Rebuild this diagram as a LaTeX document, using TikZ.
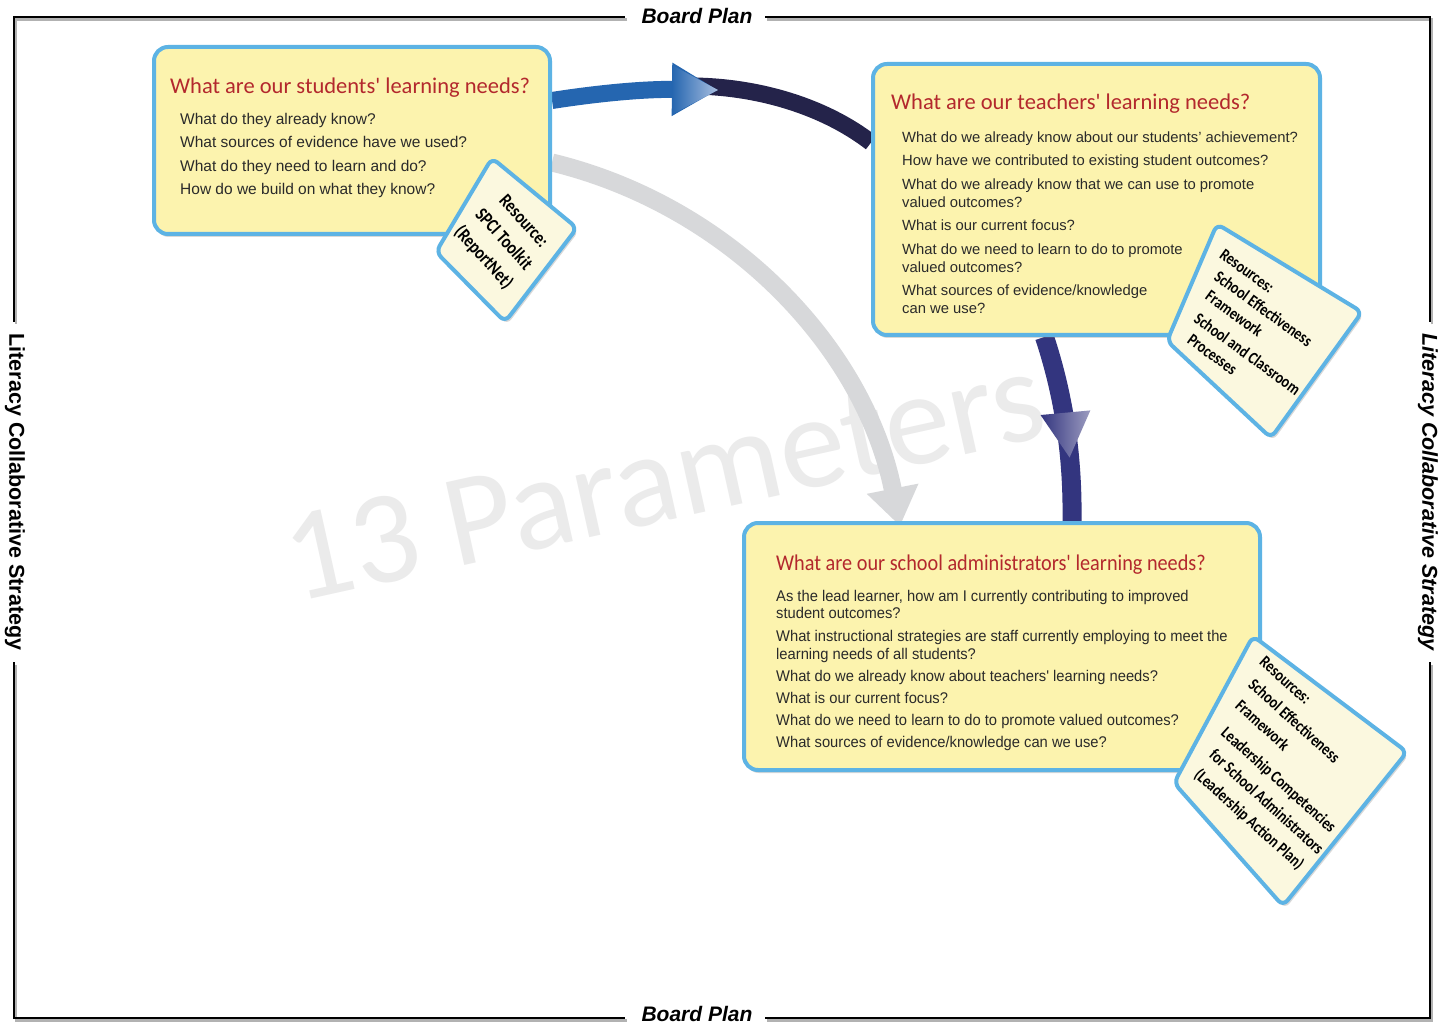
\documentclass[tikz,border=0pt]{standalone}
\usepackage{fontspec}
\setmainfont{Liberation Sans}
\newfontfamily\ttlfont{Carlito}
\newfontfamily\ttlfontc[FakeStretch=0.9]{Carlito}
\newfontfamily\cardfont[FakeStretch=0.82]{Carlito}
\newfontfamily\bodyfontc[FakeStretch=0.95]{Liberation Sans}
\newfontfamily\wmfont{Carlito}
\usetikzlibrary{arrows.meta,shadows,calc,decorations.markings}
\definecolor{boxfill}{HTML}{FCF3AE}
\definecolor{cardfill}{HTML}{FBF8DF}
\definecolor{bblue}{HTML}{5DB3E4}
\definecolor{tred}{HTML}{B3282D}
\definecolor{btext}{HTML}{2A2A2A}
\definecolor{ablue}{HTML}{2566B0}
\definecolor{ablueL}{HTML}{A9BFE0}
\definecolor{navyA}{HTML}{24234A}
\definecolor{navyB}{HTML}{33357F}
\definecolor{navyL}{HTML}{9C9CC0}
\definecolor{agray}{HTML}{D7D8DA}
\definecolor{wmgray}{HTML}{EBEBEB}
\pgfdeclarelayer{bg}
\pgfsetlayers{bg,main}
\begin{document}
\begin{tikzpicture}[x=1pt,y=-1pt,
  box/.style={draw=bblue,line width=4pt,fill=boxfill,rounded corners=14pt,inner sep=0pt,
    drop shadow={shadow xshift=1pt,shadow yshift=-3pt,opacity=0.3}},
  card/.style={draw=bblue,line width=4pt,fill=cardfill,rounded corners=7pt,line join=round,
    drop shadow={shadow xshift=2pt,shadow yshift=-3pt,opacity=0.3}},
  ttl/.style={anchor=base west,inner sep=0pt,text=tred},
  bodytxt/.style={anchor=base west,inner sep=0pt,text=btext},
  cardtxt/.style={inner sep=0pt,text=black},
  frametxt/.style={inner sep=0pt,font=\bfseries\itshape\fontsize{21}{24}\selectfont},
  sidetxt/.style={inner sep=0pt,rotate=-90,font=\bfseries\fontsize{21.5}{24}\selectfont},
]
\begin{pgfonlayer}{bg}
\fill[white] (0,0) rectangle (1438,1024);
\end{pgfonlayer}
\useasboundingbox (0,0) rectangle (1438,1024);

% frame
\foreach \dx/\dy/\c in {2/2.5/black!30, 0/0/black}{
  \draw[line width=2.6pt, draw=\c, shift={(\dx,\dy)}]
    (625,17) -| (14,322) (14,662) |- (625,1018)
    (765,1018) -| (1430,662) (1430,322) |- (765,17);
}
\node[frametxt] (bpTop) at (697,16) {Board Plan};
\node[frametxt] (bpBot) at (697,1014) {Board Plan};
\node[sidetxt] (lcsL) at (15,492) {Literacy Collaborative Strategy};
\node[sidetxt,font=\bfseries\itshape\fontsize{21.5}{24}\selectfont] (lcsR) at (1428,492) {Literacy Collaborative Strategy};

% boxes
\node[box,minimum width=396pt,minimum height=187pt] (box1) at (352,140.5) {};
\node[box,minimum width=447pt,minimum height=271pt] (box2) at (1096.5,199.5) {};
\node[box,minimum width=516pt,minimum height=247pt] (box3) at (1002,646.5) {};

% box 1 text
\node[ttl,font=\ttlfont\fontsize{22.5}{26}\selectfont] (t1) at (170,94) {What are our students' learning needs?};
\begin{scope}[every node/.style={bodytxt,font=\fontsize{15.5}{18}\selectfont}]
\node (s1) at (180,124.5) {What do they already know?};
\node (s2) at (180,148) {What sources of evidence have we used?};
\node (s3) at (180,171.5) {What do they need to learn and do?};
\node (s4) at (180,195) {How do we build on what they know?};
\end{scope}

% box 2 text
\node[ttl,font=\ttlfont\fontsize{22.5}{26}\selectfont] (t2) at (891,110) {What are our teachers' learning needs?};
\begin{scope}[every node/.style={bodytxt,font=\fontsize{14.8}{18}\selectfont}]
\node (p1) at (902,142.5) {What do we already know about our students' achievement?};
\node (p2) at (902,165.5) {How have we contributed to existing student outcomes?};
\node (p3) at (902,189.5) {What do we already know that we can use to promote};
\node (p4) at (902,207.5) {valued outcomes?};
\node (p5) at (902,230.5) {What is our current focus?};
\node (p6) at (902,254.5) {What do we need to learn to do to promote};
\node (p7) at (902,272.5) {valued outcomes?};
\node (p8) at (902,295.5) {What sources of evidence/knowledge};
\node (p9) at (902,313.5) {can we use?};
\end{scope}

% box 3 text
\node[ttl,font=\ttlfontc\fontsize{22.5}{26}\selectfont] (t3) at (776,570) {What are our school administrators' learning needs?};
\begin{scope}[every node/.style={bodytxt,font=\bodyfontc\fontsize{15.5}{18}\selectfont}]
\node (a1) at (776,601.5) {As the lead learner, how am I currently contributing to improved};
\node (a2) at (776,618.5) {student outcomes?};
\node (a3) at (776,641.5) {What instructional strategies are staff currently employing to meet the};
\node (a4) at (776,659.5) {learning needs of all students?};
\node (a5) at (776,681.5) {What do we already know about teachers' learning needs?};
\node (a6) at (776,703.5) {What is our current focus?};
\node (a7) at (776,725.5) {What do we need to learn to do to promote valued outcomes?};
\node (a8) at (776,747.5) {What sources of evidence/knowledge can we use?};
\end{scope}

% resource cards (slightly skewed sheets)
\draw[card] (492,158) -- (577,228) -- (505,322) -- (436,252) -- cycle;
\node[cardtxt,rotate=-48,align=center,font=\cardfont\bfseries\fontsize{19}{27}\selectfont] (c1t) at (503,240) {Resource:\\SPCI Toolkit\\(ReportNet)};

\draw[card] (1217,224) -- (1362,312) -- (1271,438) -- (1167,341) -- cycle;
\node[cardtxt,rotate=-36,anchor=north west,align=left,font=\cardfont\bfseries\fontsize{17}{21}\selectfont] (c2t) at (1225,248) {Resources:\\\hspace*{8.5pt}School Effectiveness\\\hspace*{13pt}Framework\\[4pt]\hspace*{17pt}School and Classroom\\\hspace*{24pt}Processes};

\draw[card] (1253,636) -- (1407,752) -- (1283,906) -- (1174,783) -- cycle;
\node[cardtxt,rotate=-42,anchor=north west,align=left,font=\cardfont\bfseries\fontsize{17}{24.5}\selectfont] (c3t) at (1266,655) {Resources:\\\hspace*{7pt}School Effectiveness\\\hspace*{11.5pt}Framework\\[5pt]\hspace*{19pt}Leadership Competencies\\\hspace*{25pt}for School Administrators\\\hspace*{27pt}(Leadership Action Plan)};

% background: watermark and connectors
\begin{pgfonlayer}{bg}
\node[text=wmgray,font=\wmfont\fontsize{132}{132}\selectfont,rotate=12.5,inner sep=0pt] (wm) at (664,478) {13 Parameters};

\coordinate (tipA) at (718,90);
\coordinate (navS) at (694,86);
\draw[line width=18pt,agray,-{Triangle[width=50pt,length=38pt]}]
  ($(box1.east)+(0,22)$) .. controls (731,206) and (865,349) .. ($(box3.north west)+(158,5)$);
\draw[line width=17pt,navyA]
  (navS) .. controls (760,87) and (825,107) .. ($(box2.west)+(0,-57)$);
\draw[line width=17pt,ablue,-{Triangle[width=50pt,length=46pt]}]
  ($(box1.east)+(0,-40)$) .. controls (600,93) and (645,89) .. (tipA);
\shade[left color=ablue,right color=ablueL] (672,65) -- (tipA) -- (672,114.5) -- cycle;
\draw[line width=19pt,navyB,postaction={decorate},
  decoration={markings,mark=at position 0.66 with {\shade[left color=navyB,right color=navyL] (-45,-25) -- (0,0) -- (-45,25) -- cycle;}}]
  ($(box2.south)+(-52,0)$) .. controls (1062,390) and (1073,450) .. ($(box3.north)+(70,0)$);
\end{pgfonlayer}
\end{tikzpicture}
\end{document}
